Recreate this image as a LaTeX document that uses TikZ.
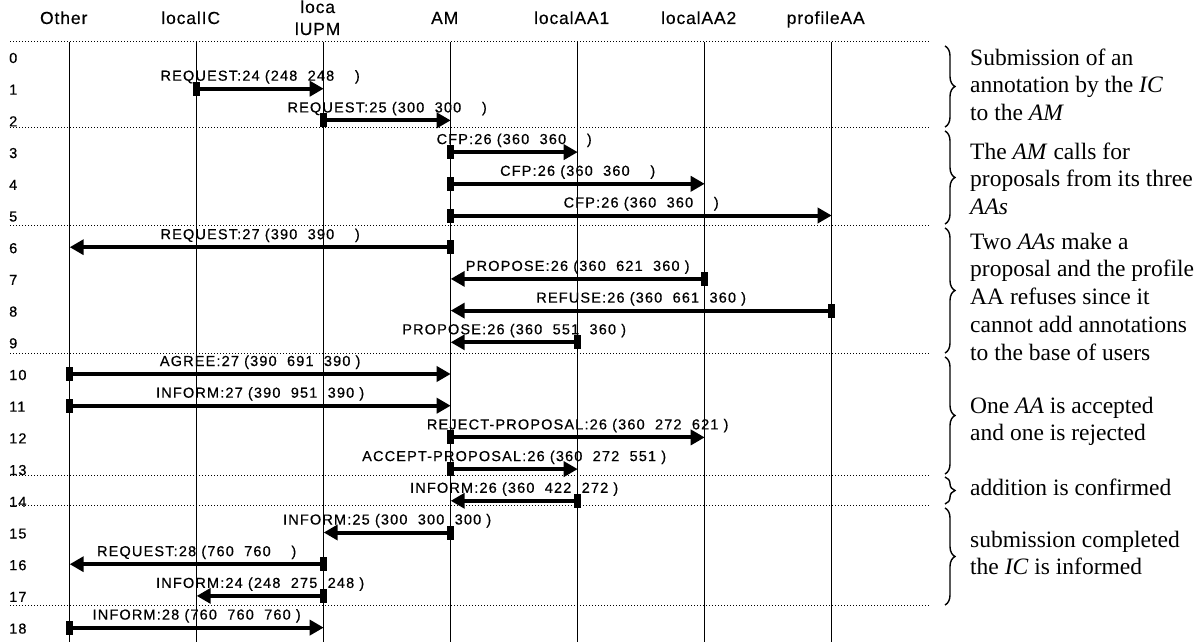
\documentclass[tikz,border=0pt]{standalone}
\usepackage{fontspec}
\setmainfont{Liberation Serif}
\newfontfamily\lblfont[LetterSpace=8,FakeBold=0.5]{Liberation Sans}
\newfontfamily\hdrfont[LetterSpace=5,FakeBold=0.3]{Liberation Sans}
\usetikzlibrary{arrows.meta,decorations.pathreplacing}

\newcommand\sendmsg[4]{%
  \node[blk] (s#3) at (#1 |- r#3) {};
  \coordinate (t#3) at (#2 |- r#3);
  \draw[msg] (s#3.center) -- (t#3);
  \path (s#3.center) -- (t#3) node[lbl, midway, yshift=8pt] (l#3) {#4};
}

\begin{document}
\begin{tikzpicture}[x=1pt,y=-1pt,
  lifeline/.style={line width=1.2pt},
  sepline/.style={line width=1pt, dash pattern=on 1pt off 2pt},
  msg/.style={line width=4pt, -{Triangle[length=14pt,width=15pt]}},
  blk/.style={fill=black, minimum width=7pt, minimum height=14pt, inner sep=0pt},
  lbl/.style={font=\lblfont\fontsize{14.5}{16}\selectfont, anchor=base, inner sep=0pt},
  hdr/.style={font=\hdrfont\fontsize{17.5}{22}\selectfont, anchor=base, inner sep=0pt, xshift=-6pt},
  num/.style={font=\lblfont\fontsize{14.5}{16}\selectfont, anchor=base west, inner sep=0pt},
  grp/.style={decorate, decoration={brace, amplitude=10pt}, line width=1.4pt},
  note/.style={anchor=base west, inner sep=0pt, font=\fontsize{23.5}{27.8}\selectfont}
]
\useasboundingbox (0,0) rectangle (1201,642);
\fill[white] (0,0) rectangle (1201,642);

% dotted separators
\foreach \y in {42,127.3,225,353.3,475,505,605}
  \draw[sepline] (10,\y) -- (930,\y);

% lifelines
\foreach \n/\x in {Oth/69.7, IC/196.7, PM/323.7, AM/450.7, AA1/577.7, AA2/704.7, PA/831.7}{
  \coordinate (\n) at (\x,42);
  \coordinate (\n-end) at (\x,642);
  \draw[lifeline] (\n) -- (\n-end);
}

% headers
\coordinate (hy) at (0,24);
\coordinate (hy2) at (0,35);
\node[hdr] (hOth) at (Oth |- hy) {Other};
\node[hdr] (hIC) at (IC |- hy) {localIC};
\node[hdr] (hPM) at (PM |- hy2) {\begin{tabular}[b]{@{}c@{}}loca\\lUPM\end{tabular}};
\node[hdr] (hAM) at (AM |- hy) {AM};
\node[hdr] (hAA1) at (AA1 |- hy) {localAA1};
\node[hdr] (hAA2) at (AA2 |- hy) {localAA2};
\node[hdr] (hPA) at (PA |- hy) {profileAA};

% rows
\foreach \k in {0,...,18}{
  \coordinate (r\k) at (0,{57+31.7*\k});
  \node[num] (n\k) at (9,{63+31.7*\k}) {\k};
}

% messages
\sendmsg{IC}{PM}{1}{REQUEST:24 (248~~248~~~~)}
\sendmsg{PM}{AM}{2}{REQUEST:25 (300~~300~~~~)}
\sendmsg{AM}{AA1}{3}{CFP:26 (360~~360~~~~)}
\sendmsg{AM}{AA2}{4}{CFP:26 (360~~360~~~~)}
\sendmsg{AM}{PA}{5}{CFP:26 (360~~360~~~~)}
\sendmsg{AM}{Oth}{6}{REQUEST:27 (390~~390~~~~)}
\sendmsg{AA2}{AM}{7}{PROPOSE:26 (360~~621~~360~)}
\sendmsg{PA}{AM}{8}{REFUSE:26 (360~~661~~360~)}
\sendmsg{AA1}{AM}{9}{PROPOSE:26 (360~~551~~360~)}
\sendmsg{Oth}{AM}{10}{AGREE:27 (390~~691~~390~)}
\sendmsg{Oth}{AM}{11}{INFORM:27 (390~~951~~390~)}
\sendmsg{AM}{AA2}{12}{REJECT-PROPOSAL:26 (360~~272~~621~)}
\sendmsg{AM}{AA1}{13}{ACCEPT-PROPOSAL:26 (360~~272~~551~)}
\sendmsg{AA1}{AM}{14}{INFORM:26 (360~~422~~272~)}
\sendmsg{AM}{PM}{15}{INFORM:25 (300~~300~~300~)}
\sendmsg{PM}{Oth}{16}{REQUEST:28 (760~~760~~~~)}
\sendmsg{PM}{IC}{17}{INFORM:24 (248~~275~~248~)}
\sendmsg{Oth}{PM}{18}{INFORM:28 (760~~760~~760~)}

% braces
\draw[grp] (945,46) -- (945,127);
\draw[grp] (945,131) -- (945,224);
\draw[grp] (945,228) -- (945,353);
\draw[grp] (945,357) -- (945,474);
\draw[grp] (945,477) -- (945,504);
\draw[grp] (945,508) -- (945,605);

% notes
\node[note] (g1) at (970,65) {\parbox[t]{240pt}{\raggedright Submission of an\\annotation by the \textit{IC}\\to the \textit{AM}}};
\node[note] (g2) at (970,159) {\parbox[t]{240pt}{\raggedright The \textit{AM} calls for\\proposals from its three\\\textit{AAs}}};
\node[note] (g3) at (970,249) {\parbox[t]{240pt}{\raggedright Two \textit{AAs} make a\\proposal and the profile\\AA refuses since it\\cannot add annotations\\to the base of users}};
\node[note] (g4) at (970,413) {\parbox[t]{240pt}{\raggedright One \textit{AA} is accepted\\and one is rejected}};
\node[note] (g5) at (970,495) {\parbox[t]{240pt}{\raggedright addition is confirmed}};
\node[note] (g6) at (970,547) {\parbox[t]{240pt}{\raggedright submission completed\\the \textit{IC} is informed}};
\end{tikzpicture}
\end{document}
